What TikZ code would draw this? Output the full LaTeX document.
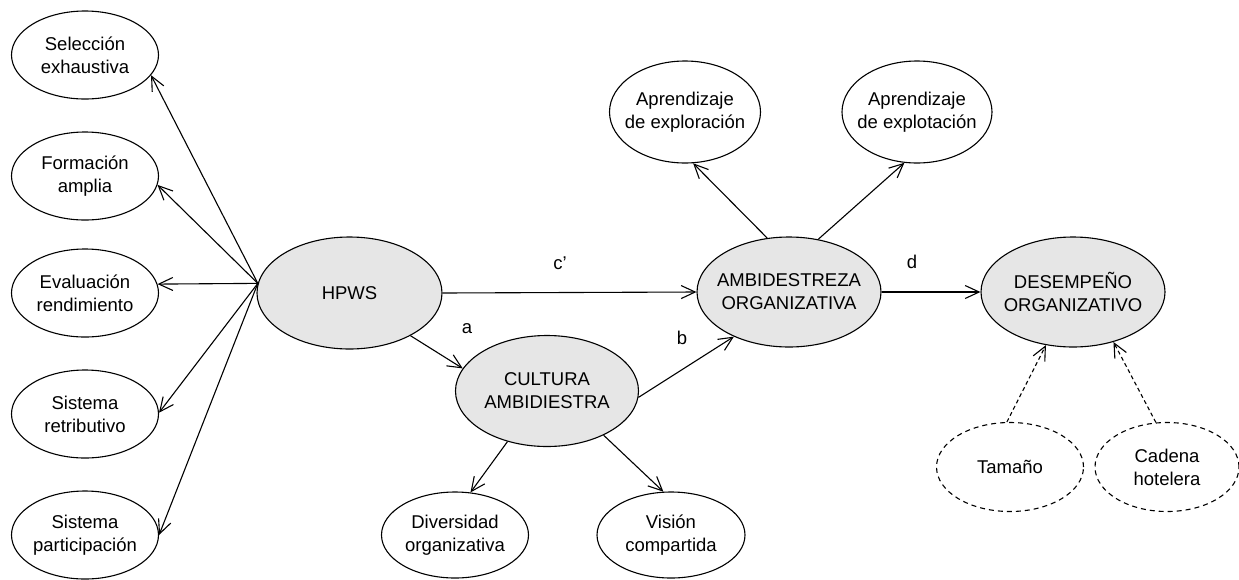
\documentclass[tikz,border=0pt]{standalone}
\usepackage{fontspec}
\setmainfont{Liberation Sans}
\usetikzlibrary{shapes.geometric,arrows.meta}
\definecolor{latgray}{RGB}{230,230,230}
\tikzset{
  ell/.style={draw=black, line width=1.1pt, shape=ellipse, inner xsep=-25pt, inner ysep=0pt,
    align=center, font=\fontsize{18.5}{23}\selectfont},
  lat/.style={ell, fill=latgray},
  obs/.style={ell, fill=white},
  ctrl/.style={ell, dash pattern=on 5pt off 4pt},
  conn/.style={line width=1.1pt, -{Straight Barb[length=14pt,width=13pt,line width=1.1pt]}},
  dconn/.style={conn, dash pattern=on 4pt off 3pt},
  lbl/.style={font=\fontsize{18.5}{23}\selectfont, inner sep=0pt}
}
\begin{document}
\begin{tikzpicture}[x=1pt,y=-1pt]
\useasboundingbox (0,0) rectangle (1239,579);
% left indicators
\node[obs, minimum width=147pt, minimum height=88pt] (sel) at (85,55) {Selección\\exhaustiva};
\node[obs, minimum width=147pt, minimum height=88pt] (for) at (85,176) {Formación\\amplia};
\node[obs, minimum width=147pt, minimum height=88pt] (eva) at (85,293) {Evaluación\\rendimiento};
\node[obs, minimum width=147pt, minimum height=88pt] (ret) at (85,414) {Sistema\\retributivo};
\node[obs, minimum width=147pt, minimum height=88pt] (par) at (85,535) {Sistema\\participación};
% latent
\node[lat, minimum width=185pt, minimum height=112pt] (hpws) at (349.5,293) {HPWS};
\node[lat, minimum width=183pt, minimum height=111pt] (cul) at (547,391) {CULTURA\\AMBIDIESTRA};
\node[lat, minimum width=184pt, minimum height=110pt] (amb) at (789,292) {AMBIDESTREZA\\ORGANIZATIVA};
\node[lat, minimum width=184pt, minimum height=110pt] (des) at (1073,292) {DESEMPEÑO\\ORGANIZATIVO};
% top indicators
\node[obs, minimum width=151pt, minimum height=102pt] (exr) at (685,112) {Aprendizaje\\de exploración};
\node[obs, minimum width=150pt, minimum height=102pt] (ext) at (917,112) {Aprendizaje\\de explotación};
% bottom indicators
\node[obs, minimum width=147pt, minimum height=86pt] (div) at (455,535) {Diversidad\\organizativa};
\node[obs, minimum width=148pt, minimum height=86pt] (vis) at (671,535) {Visión\\compartida};
% controls
\node[ctrl, minimum width=147pt, minimum height=89pt] (tam) at (1010,467) {Tamaño};
\node[ctrl, minimum width=144pt, minimum height=89pt] (cad) at (1167,467) {Cadena\\hotelera};
% labels
\node[lbl] (lc) at (560,263) {c’};
\node[lbl] (la) at (467,329) {a};
\node[lbl] (lb) at (682,338) {b};
\node[lbl] (ld) at (912,262) {d};
% connectors HPWS -> indicators
\coordinate (hs) at (hpws.174);
\draw[conn] (hs) -- (sel.-17);
\draw[conn] (hs) -- (for.-7);
\draw[conn] (hs) -- (eva.7.6);
\draw[conn] (hs) -- (ret.1.5);
\draw[conn] (hs) -- (par.0);
% structural paths
\draw[conn] (hpws.east) -- (amb.west);
\draw[conn] (amb.east) -- (des.west);
\draw[conn] (hpws.-35) -- (cul.165);
\draw[conn] (cul.-4) -- (amb.219);
% ambidestreza indicators
\draw[conn] (amb.112) -- (exr.-81);
\draw[conn] (amb.61) -- (ext.-104.5);
% cultura indicators
\draw[conn] (cul.232) -- (div.70);
\draw[conn] (cul.-38) -- (vis.100.5);
% controls
\draw[dconn] (tam.94) -- (des.243);
\draw[dconn] (cad.104) -- (des.-51);
\end{tikzpicture}
\end{document}
